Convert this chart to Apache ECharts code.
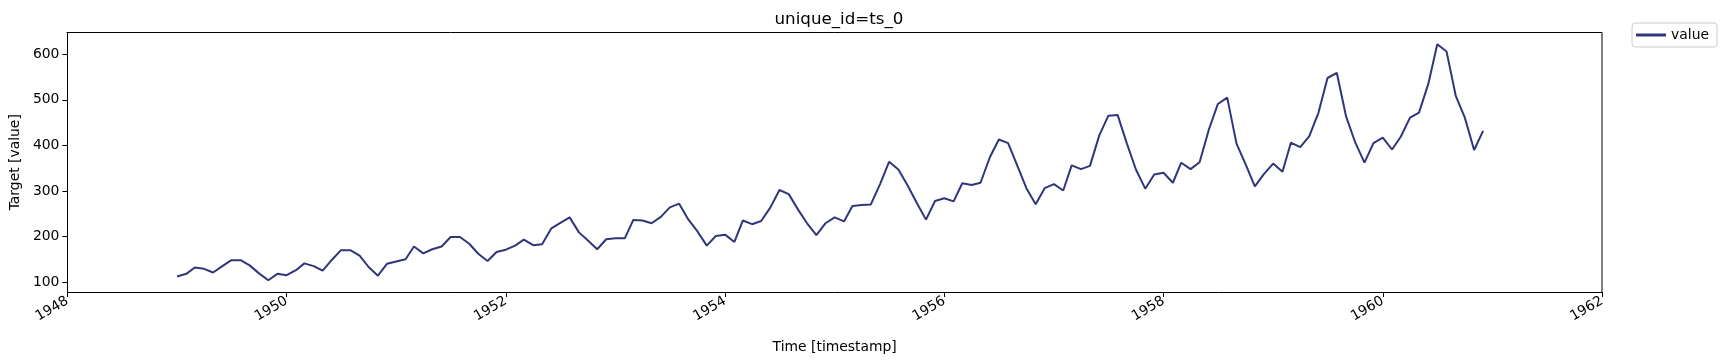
<!DOCTYPE html>
<html>
<head>
<meta charset="utf-8">
<script src="https://cdn.jsdelivr.net/npm/echarts@6/dist/echarts.min.js"></script>
<style>
html, body { margin: 0; padding: 0; background: #fff; }
#main { width: 1726px; height: 361px; }
</style>
</head>
<body>
<div id="main"></div>
<script>
// monthly values, 1949-01 .. 1960-12
var years = [1949, 1950, 1951, 1952, 1953, 1954, 1955, 1956, 1957, 1958, 1959, 1960];
var values = [
	112, 118, 132, 129, 121, 135, 148, 148, 136, 119, 104, 118,
	115, 126, 141, 135, 125, 149, 170, 170, 158, 133, 114, 140,
	145, 150, 178, 163, 172, 178, 199, 199, 184, 162, 146, 166,
	171, 180, 193, 181, 183, 218, 230, 242, 209, 191, 172, 194,
	196, 196, 236, 235, 229, 243, 264, 272, 237, 211, 180, 201,
	204, 188, 235, 227, 234, 264, 302, 293, 259, 229, 203, 229,
	242, 233, 267, 269, 270, 315, 364, 347, 312, 274, 237, 278,
	284, 277, 317, 313, 318, 374, 413, 405, 355, 306, 271, 306,
	315, 301, 356, 348, 355, 422, 465, 467, 404, 347, 305, 336,
	340, 318, 362, 348, 363, 435, 491, 505, 404, 359, 310, 337,
	360, 342, 406, 396, 420, 472, 548, 559, 463, 407, 362, 405,
	417, 391, 419, 461, 472, 535, 622, 606, 508, 461, 390, 432
];
var yTicks = [100, 200, 300, 400, 500, 600];

// date -> fractional year
function toYear(y, m) {
	var start = Date.UTC(y, 0, 1), end = Date.UTC(y + 1, 0, 1);
	return y + (Date.UTC(y, m, 1) - start) / (end - start);
}

var seriesData = [];
years.forEach(function(y, i) {
	for (var m = 0; m < 12; m++) {
		seriesData.push([toYear(y, m), values[i * 12 + m]]);
	}
});

var font = 'DejaVu Sans';
var chart = echarts.init(document.getElementById('main'));
chart.setOption({
	animation: false,
	title: {
		text: 'unique_id=ts_0',
		left: 834, top: 6, textAlign: 'center',
		textStyle: { fontFamily: font, fontSize: 16.7, fontWeight: 'normal', color: '#000' }
	},
	legend: {
		right: 9, top: 23,
		orient: 'vertical',
		itemWidth: 30, itemHeight: 3, itemGap: 4,
		padding: [5, 8, 5, 4],
		borderColor: '#ccc', borderWidth: 1, borderRadius: 3,
		textStyle: { fontFamily: font, fontSize: 13.9, color: '#000' },
		data: [{ name: 'value', icon: 'rect' }]
	},
	grid: { left: 66.5, right: 124, top: 32.5, bottom: 69, containLabel: false },
	xAxis: {
		type: 'value',
		min: 1948, max: 1962, interval: 2,
		name: 'Time [timestamp]', nameLocation: 'middle', nameGap: 48,
		nameTextStyle: { fontFamily: font, fontSize: 13.9, color: '#000' },
		axisLine: { onZero: false, lineStyle: { color: '#000', width: 1 } },
		axisTick: { length: 5, lineStyle: { color: '#000' } },
		axisLabel: {
			rotate: 30, margin: 8, fontFamily: font, fontSize: 13.9, color: '#000',
			formatter: function(v) { return String(Math.round(v)); }
		},
		splitLine: { show: false }
	},
	yAxis: {
		type: 'value',
		min: 78.1, max: 647.9,
		name: 'Target [value]', nameLocation: 'middle', nameGap: 45,
		nameTextStyle: { fontFamily: font, fontSize: 13.9, color: '#000' },
		axisLine: { show: true, lineStyle: { color: '#000', width: 1 } },
		axisTick: { show: true, length: 5, lineStyle: { color: '#000' }, customValues: yTicks },
		axisLabel: { margin: 8, fontFamily: font, fontSize: 13.9, color: '#000', customValues: yTicks },
		splitLine: { show: false }
	},
	series: [{
		name: 'value',
		type: 'line',
		data: seriesData,
		showSymbol: false,
		lineStyle: { color: '#31367a', width: 2 },
		itemStyle: { color: '#31367a' }
	}],
	graphic: [
		// right and top spines
		{ type: 'polyline', shape: { points: [[66.5, 32.5], [1602, 32.5], [1602, 292]] },
		  style: { fill: 'none', stroke: '#000', lineWidth: 1 }, silent: true }
	]
});
</script>
</body>
</html>
